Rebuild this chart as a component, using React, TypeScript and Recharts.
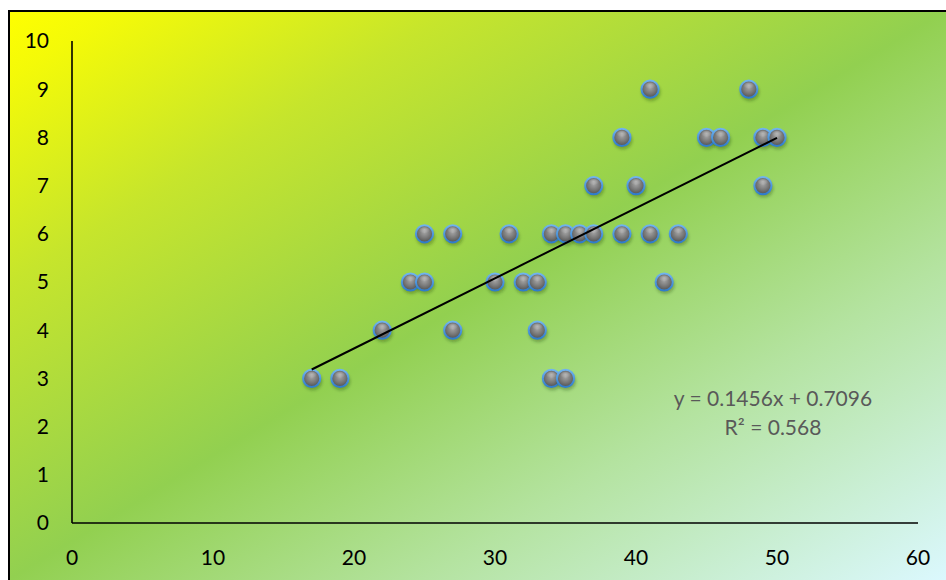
import { ScatterChart, Scatter, XAxis, YAxis } from 'recharts'

// points, grouped by y level
const xValues = [
  17, 19, 34, 35,
  22, 27, 33,
  24, 25, 30, 32, 33, 42,
  25, 27, 31, 34, 35, 36, 37, 39, 41, 43,
  37, 40, 49,
  39, 45, 46, 49, 50,
  41, 48
]
const yValues = [
  3, 3, 3, 3,
  4, 4, 4,
  5, 5, 5, 5, 5, 5,
  6, 6, 6, 6, 6, 6, 6, 6, 6, 6,
  7, 7, 7,
  8, 8, 8, 8, 8,
  9, 9
]

const xTicks = [0, 10, 20, 30, 40, 50, 60]
const yTicks = [0, 1, 2, 3, 4, 5, 6, 7, 8, 9, 10]

// trendline as printed on the chart
const slope = 0.1456
const intercept = 0.7096
const rSquared = '0.568'

const points = xValues.map((x, i) => ({ x, y: yValues[i] }))
const trendX = [Math.min(...xValues), Math.max(...xValues)]
const trendPoints = trendX.map((x) => ({ x, y: slope * x + intercept }))

const W = 938
const H = 570
const FONT = 'Lato, "Open Sans", sans-serif'

function Ball(props: any) {
  const { cx, cy } = props
  if (cx == null || cy == null) return <g />
  return (
    <g>
      <ellipse cx={cx + 1} cy={cy + 3} rx={9.5} ry={9} fill="rgba(20,50,0,0.30)" filter="url(#ballShadow)" />
      <circle cx={cx} cy={cy} r={8.6} fill="url(#ballFill)" stroke="url(#ballRim)" strokeWidth={2} />
      <ellipse cx={cx} cy={cy - 3.5} rx={5} ry={3.2} fill="url(#ballShine)" />
    </g>
  )
}

function NoDot() {
  return <g />
}

export default function App() {
  return (
    <div
      style={{
        position: 'fixed',
        left: 8,
        top: 10,
        width: W,
        height: H,
        overflow: 'hidden',
        background: 'linear-gradient(to bottom right, #ffff00 0%, #f4fa08 6%, #c6e52c 24%, #92d050 50%, #b4e3a0 72%, #dbf8fe 100%)'
      }}
    >
      <svg width={0} height={0} style={{ position: 'absolute' }}>
        <defs>
          <radialGradient id="ballFill" cx="50%" cy="42%" r="60%">
            <stop offset="0%" stopColor="#a4a4a4" />
            <stop offset="55%" stopColor="#777777" />
            <stop offset="100%" stopColor="#4e4e4e" />
          </radialGradient>
          <linearGradient id="ballRim" x1="0" y1="0" x2="0" y2="1">
            <stop offset="0%" stopColor="#6fb3f0" />
            <stop offset="100%" stopColor="#2f7ccc" />
          </linearGradient>
          <radialGradient id="ballShine" cx="50%" cy="40%" r="60%">
            <stop offset="0%" stopColor="rgba(255,255,255,0.35)" />
            <stop offset="100%" stopColor="rgba(255,255,255,0)" />
          </radialGradient>
          <filter id="ballShadow" x="-50%" y="-50%" width="200%" height="200%">
            <feGaussianBlur stdDeviation="1.6" />
          </filter>
        </defs>
      </svg>

      <div style={{ position: 'absolute', left: 0, top: 0 }}>
        <ScatterChart width={W} height={H} margin={{ top: 31, right: 28, bottom: 0, left: 0 }}>
          <XAxis
            type="number"
            dataKey="x"
            domain={[0, 60]}
            ticks={xTicks}
            interval={0}
            height={57}
            tickLine={false}
            tickSize={0}
            tickMargin={27}
            axisLine={{ stroke: '#000', strokeWidth: 1.6 }}
            tick={{ fill: '#000', fontSize: 21, fontFamily: FONT }}
          />
          <YAxis
            type="number"
            dataKey="y"
            domain={[0, 10]}
            ticks={yTicks}
            interval={0}
            width={64}
            tickLine={false}
            tickSize={0}
            tickMargin={23}
            axisLine={{ stroke: '#000', strokeWidth: 1.6 }}
            tick={{ fill: '#000', fontSize: 21, fontFamily: FONT }}
          />
          <Scatter data={points} shape={Ball} isAnimationActive={false} />
          <Scatter
            data={trendPoints}
            shape={NoDot}
            line={{ stroke: '#000', strokeWidth: 2 }}
            isAnimationActive={false}
          />
        </ScatterChart>
      </div>

      <svg width={W} height={H} style={{ position: 'absolute', left: 0, top: 0, pointerEvents: 'none' }}>
        <text x={765} y={396} textAnchor="middle" fill="#595959" fontSize={21} fontFamily={FONT}>
          {`y = ${slope}x + ${intercept}`}
        </text>
        <text x={765} y={425} textAnchor="middle" fill="#595959" fontSize={21} fontFamily={FONT}>
          {`R² = ${rSquared}`}
        </text>
      </svg>

      <div
        style={{
          position: 'absolute',
          left: 0,
          top: 0,
          width: W + 40,
          height: H + 40,
          border: '2px solid #000',
          boxSizing: 'border-box',
          pointerEvents: 'none'
        }}
      />
    </div>
  )
}
